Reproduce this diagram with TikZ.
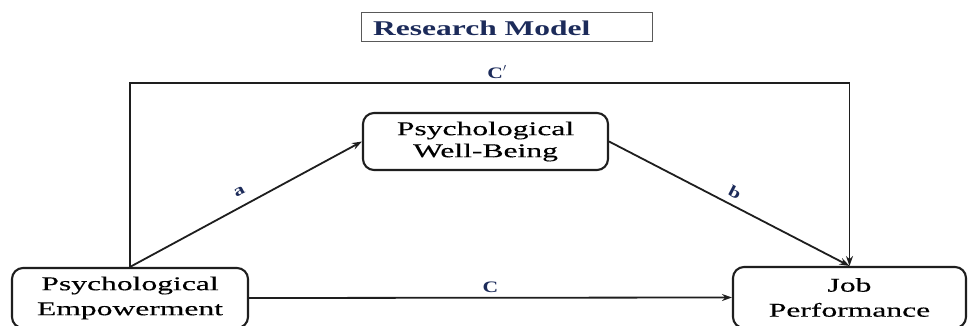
\documentclass[tikz,border=0pt]{standalone}
\usepackage{fontspec}
\setmainfont{Liberation Serif}
\newfontfamily\boxfont[FakeStretch=1.62,FakeBold=0.3]{Liberation Serif}
\newfontfamily\titlefont[FakeStretch=1.5]{Liberation Serif}
\newfontfamily\labfont[FakeStretch=1.35]{Liberation Serif}
\usetikzlibrary{arrows.meta}
\definecolor{navy}{HTML}{1C2B5A}
\definecolor{edge}{HTML}{1E1E1E}
\tikzset{
  varbox/.style={draw=edge, line width=2.1pt, rounded corners=11pt, align=center,
    inner sep=0pt, font=\boxfont\fontsize{19.5}{25}\selectfont},
  link/.style={draw=edge, line width=1.8pt},
  arr/.style={link, -{Stealth[length=10pt,width=7pt]}},
  lab/.style={text=navy, font=\labfont\bfseries\fontsize{16}{16}\selectfont, inner sep=0pt}
}
\begin{document}
\begin{tikzpicture}[x=1pt,y=-1pt]
  \useasboundingbox (0,0) rectangle (969,326);
  \clip (0,0) rectangle (969,326);
  \fill[white] (0,0) rectangle (969,326);

  % heading
  \draw[black!65, line width=0.9pt] (361,12) rectangle (652,41);
  \node[anchor=west, text=navy, inner sep=0pt,
        font=\titlefont\bfseries\fontsize{21}{21}\selectfont] (title) at (373,28) {Research Model};

  % variables
  \node[varbox, minimum width=236pt, minimum height=60pt] (PE) at (130,298)
    {Psychological\\Empowerment};
  \node[varbox, minimum width=245pt, minimum height=57pt] (PWB) at (485.5,141.5)
    {\raisebox{-3pt}{Psychological}\\Well-Being};
  \node[varbox, minimum width=233pt, minimum height=61pt] (JP) at (849.5,297.5)
    {Job\\Performance};

  % paths
  \coordinate (top) at (0,83);
  \draw[arr] (PE.north) |- (top -| JP.north) -- (JP.north);
  \draw[arr] (PE.north) -- node[lab, sloped, above=9pt] {a} (PWB.west);
  \draw[arr] (PWB.east) -- node[lab, sloped, above=6pt] {b} (JP.north);
  \draw[arr] (PE.east) -- node[lab, above=4pt] {C} (JP.west);
  \node[lab] (cp) at (497,72) {C$'$};
\end{tikzpicture}
\end{document}
